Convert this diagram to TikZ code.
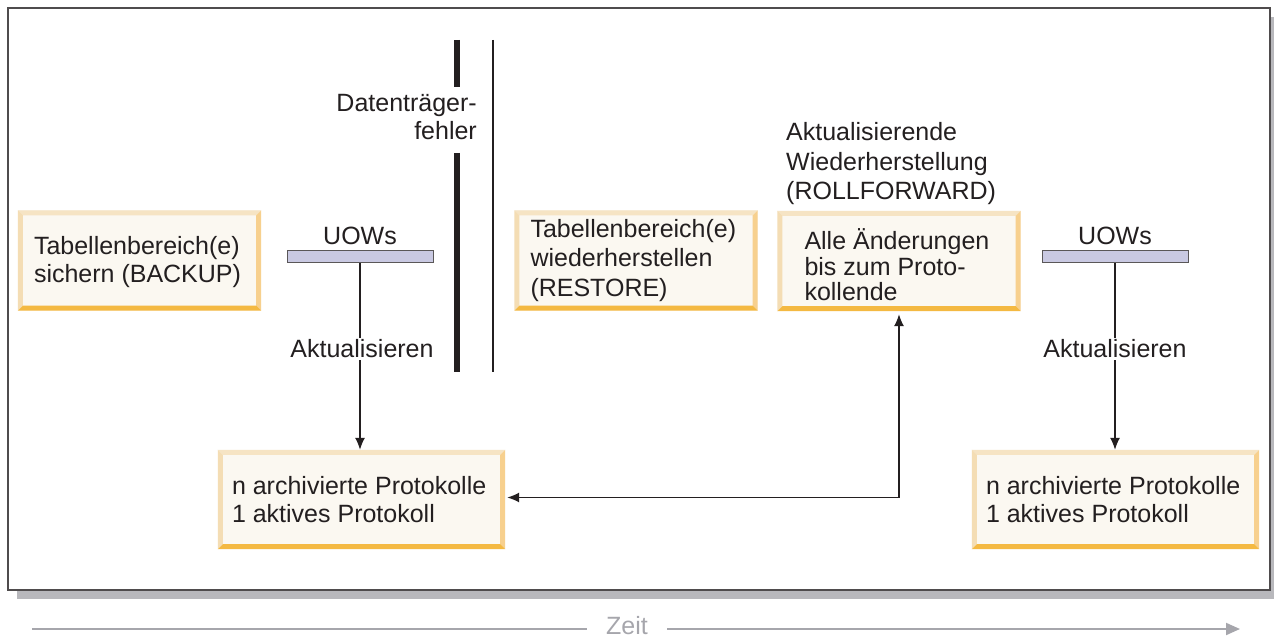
\documentclass[tikz,border=0pt]{standalone}
\usepackage{fontspec}
\setmainfont{Liberation Sans}
\usetikzlibrary{arrows.meta}
\definecolor{ink}{HTML}{231F20}
\definecolor{boxfill}{HTML}{FBF8F1}
\definecolor{bvtop}{HTML}{F6E4C4}
\definecolor{bvleft}{HTML}{F4DDB4}
\definecolor{bvright}{HTML}{F7D08E}
\definecolor{bvbottom}{HTML}{F4B942}
\definecolor{uowfill}{HTML}{C9C9E2}
\definecolor{shadowgray}{HTML}{B8B8BC}
\definecolor{timegray}{HTML}{A6A6AC}
% bevelled rim of a box node
\newcommand\bevel[1]{%
\fill[bvtop] (#1.north west) -- (#1.north east) -- ([shift={(-5,5)}]#1.north east) -- ([shift={(5,5)}]#1.north west) -- cycle;
\fill[bvleft] (#1.north west) -- ([shift={(5,5)}]#1.north west) -- ([shift={(5,-5)}]#1.south west) -- (#1.south west) -- cycle;
\fill[bvright] (#1.north east) -- (#1.south east) -- ([shift={(-5,-5)}]#1.south east) -- ([shift={(-5,5)}]#1.north east) -- cycle;
\fill[bvbottom] (#1.south west) -- (#1.south east) -- ([shift={(-5,-5)}]#1.south east) -- ([shift={(5,-5)}]#1.south west) -- cycle;}
\begin{document}
\begin{tikzpicture}[x=1pt,y=-1pt,
  every node/.style={font=\fontsize{25}{28}\selectfont, text=ink},
  pbox/.style={fill=boxfill, minimum width=243pt, minimum height=100pt, inner sep=0pt},
  wbox/.style={pbox, minimum width=287pt, minimum height=99pt},
  ptext/.style={anchor=west, align=left, inner sep=0pt},
  uow/.style={draw=ink!75, fill=uowfill, line width=1pt, minimum width=146pt, minimum height=12pt, inner sep=0pt},
  lbl/.style={fill=white, inner sep=2pt},
  tip/.tip={Latex[length=12pt,width=10pt]},
  flow/.style={draw=ink, line width=1.3pt, -tip}]
\useasboundingbox (0,0) rectangle (1274,639);
% frame with shadow
\fill[shadowgray] (17,17) rectangle (1274,599);
\draw[fill=white, draw=ink!80, line width=1.5pt] (8,8) rectangle (1270,590);
% media failure
\draw[ink, line width=6pt] (457,40) -- (457,87);
\draw[ink, line width=6pt] (457,153) -- (457,372);
\draw[ink, line width=1.5pt] (493,40) -- (493,372);
\node[align=right, anchor=east, inner sep=0pt] (fehler) at (477,117) {Datenträger-\\fehler};
% boxes
\node[pbox] (backup) at (139.5,260.5) {};
\node[pbox] (restore) at (636,260.5) {};
\node[pbox] (aend) at (899,261) {};
\node[wbox] (proto1) at (361.5,499.5) {};
\node[wbox] (proto2) at (1115.5,499.5) {};
\bevel{backup}
\bevel{restore}
\bevel{aend}
\bevel{proto1}
\bevel{proto2}
\node[ptext] (backuptxt) at ([xshift=16pt,yshift=-1.5pt]backup.west) {Tabellenbereich(e)\\sichern (BACKUP)};
\node[ptext, font=\fontsize{25}{29.5}\selectfont] (restoretxt) at ([xshift=16pt]restore.west) {Tabellenbereich(e)\\wiederherstellen\\(RESTORE)};
\node[ptext, font=\fontsize{25}{25.5}\selectfont] (aendtxt) at ([xshift=27pt,yshift=-4pt]aend.west) {Alle Änderungen\\bis zum Proto-\\kollende};
\node[ptext] (proto1txt) at ([xshift=14pt]proto1.west) {n archivierte Protokolle\\1 aktives Protokoll};
\node[ptext] (proto2txt) at ([xshift=14pt]proto2.west) {n archivierte Protokolle\\1 aktives Protokoll};
\node[ptext, font=\fontsize{25}{29.5}\selectfont] (rollfwd) at (786,164) {Aktualisierende\\Wiederherstellung\\(ROLLFORWARD)};
% units of work
\node[uow] (uow1) at (360,256.5) {};
\node[uow] (uow2) at (1115,256.5) {};
\node[inner sep=0pt] (uow1txt) at (360,236) {UOWs};
\node[inner sep=0pt] (uow2txt) at (1115,236) {UOWs};
\draw[flow] (uow1.south) -- (uow1.south |- proto1.north);
\draw[flow] (uow2.south) -- (uow2.south |- proto2.north);
\node[lbl] (akt1) at (362,349) {Aktualisieren};
\node[lbl] (akt2) at (1115,349) {Aktualisieren};
\draw[draw=ink, line width=1.3pt, tip-tip] ([xshift=2pt,yshift=2pt]proto1.east) -| ([yshift=-3pt]aend.south);
% time axis
\node[text=timegray, inner xsep=19pt, inner ysep=1pt] (zeit) at (627,626) {Zeit};
\coordinate (tstart) at (32,629);
\coordinate (tend) at (1240,629);
\draw[timegray, line width=2pt] (tstart) -- (zeit.west |- tstart);
\draw[timegray, line width=2pt, -{Triangle[length=14pt,width=12pt]}] (zeit.east |- tend) -- (tend);
\end{tikzpicture}
\end{document}
